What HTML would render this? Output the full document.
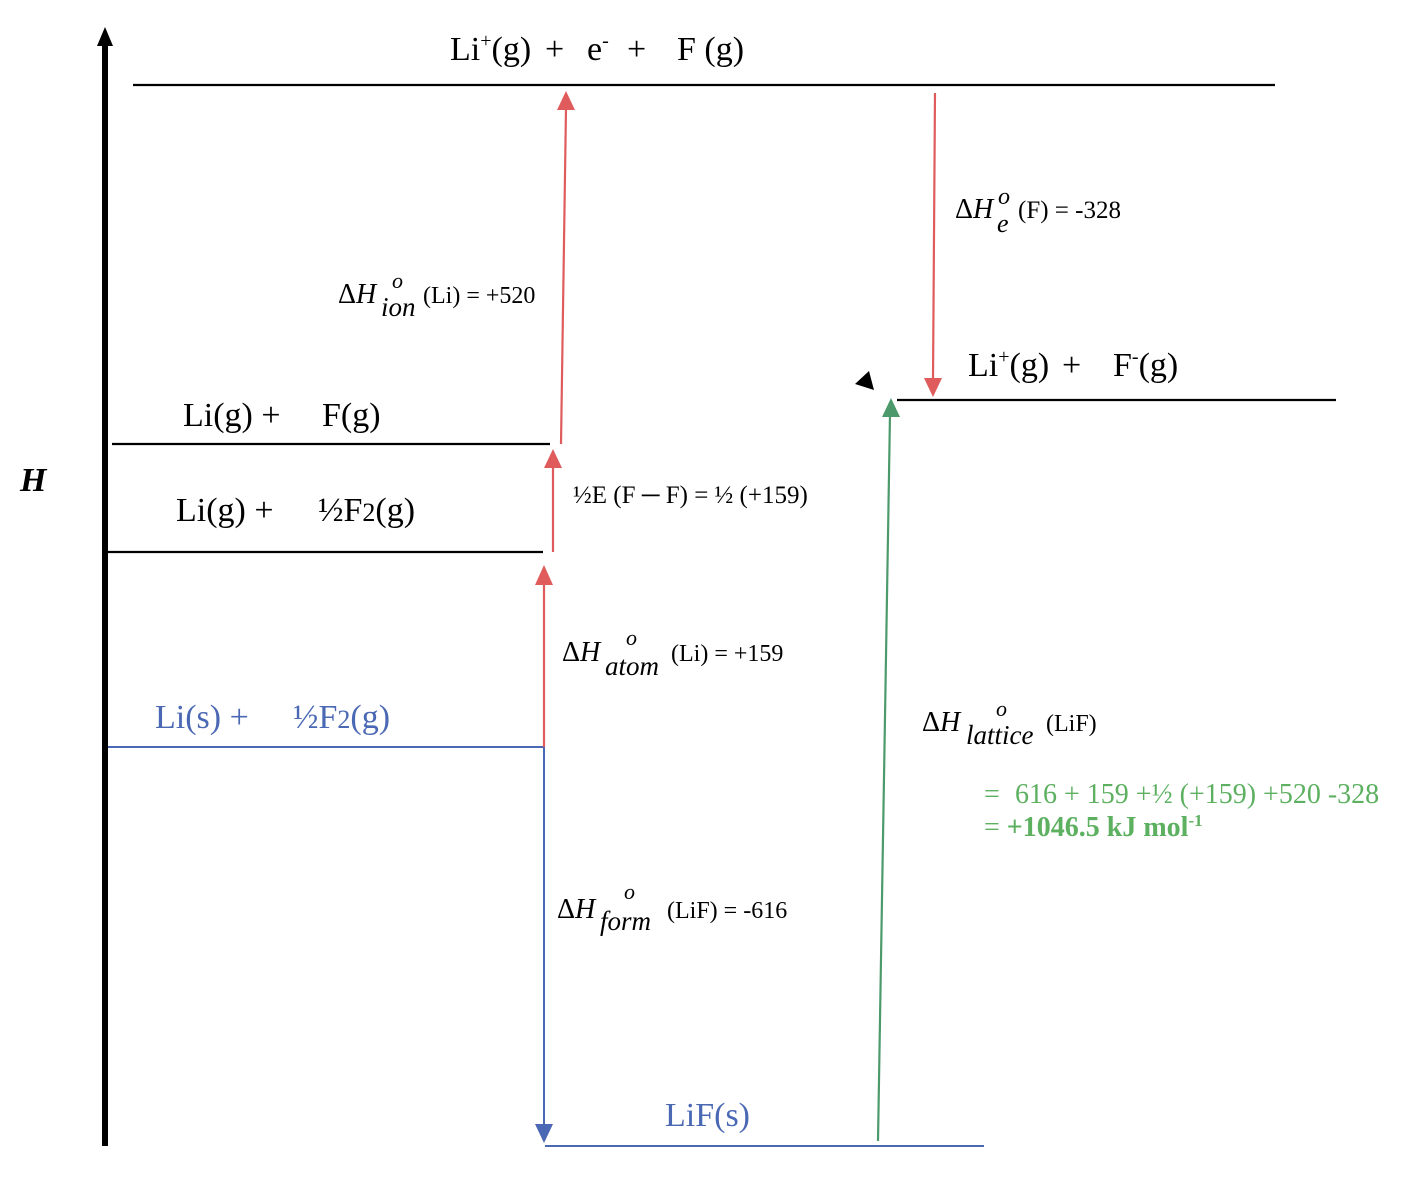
<!DOCTYPE html>
<html><head><meta charset="utf-8"><style>
html,body{margin:0;padding:0;background:#fff;}
svg text{font-family:"Liberation Serif",serif;}
.it{font-style:italic;}
</style></head><body>
<svg width="1410" height="1178" viewBox="0 0 1410 1178" xmlns="http://www.w3.org/2000/svg" xml:space="preserve">
<line x1="105" y1="1146" x2="105" y2="44" stroke="#000" stroke-width="6"/>
<polygon points="105,27 97,46 113,46" fill="#000"/>
<text x="20" y="491" font-size="34" font-weight="bold" class="it">H</text>

<line x1="133" y1="85" x2="1275" y2="85" stroke="#000" stroke-width="2.2"/>
<line x1="112" y1="444" x2="550" y2="444" stroke="#000" stroke-width="2.2"/>
<line x1="108" y1="552" x2="543" y2="552" stroke="#000" stroke-width="2.2"/>
<line x1="897" y1="400" x2="1336" y2="400" stroke="#000" stroke-width="2.2"/>
<line x1="108" y1="747" x2="544" y2="747" stroke="#4a68b3" stroke-width="2"/>
<line x1="545" y1="1146" x2="984" y2="1146" stroke="#4a68b3" stroke-width="2"/>

<text x="450" y="60" font-size="34">Li<tspan font-size="20" dy="-13">+</tspan><tspan dy="13">(g)</tspan></text>
<text x="545" y="60" font-size="34">+</text>
<text x="587" y="60" font-size="34">e<tspan font-size="20" dy="-13">-</tspan></text>
<text x="627" y="60" font-size="34">+</text>
<text x="677" y="60" font-size="34">F (g)</text>

<text x="183" y="426" font-size="34">Li(g) +</text>
<text x="322" y="426" font-size="34">F(g)</text>
<text x="176" y="521" font-size="34">Li(g) +</text>
<text x="318" y="521" font-size="34">½F<tspan font-size="26">2</tspan>(g)</text>
<text x="155" y="728" font-size="34" fill="#4a68b3">Li(s) +</text>
<text x="293" y="728" font-size="34" fill="#4a68b3">½F<tspan font-size="26">2</tspan>(g)</text>
<text x="665" y="1126" font-size="34" fill="#4a68b3">LiF(s)</text>
<text x="968" y="376" font-size="34">Li<tspan font-size="20" dy="-13">+</tspan><tspan dy="13">(g)</tspan></text>
<text x="1062" y="376" font-size="34">+</text>
<text x="1113" y="376" font-size="34">F<tspan font-size="20" dy="-13">-</tspan><tspan dy="13">(g)</tspan></text>

<line x1="544" y1="747" x2="544" y2="584" stroke="#e05c5c" stroke-width="2.2"/>
<polygon points="544,565 535,585 553,585" fill="#e05c5c"/>
<line x1="553" y1="552" x2="553" y2="466" stroke="#e05c5c" stroke-width="2.2"/>
<polygon points="553,449 544,468 562,468" fill="#e05c5c"/>
<line x1="561" y1="444" x2="566" y2="108" stroke="#e05c5c" stroke-width="2.2"/>
<polygon points="566,91 557,110 575,110" fill="#e05c5c"/>
<line x1="935" y1="93" x2="933" y2="380" stroke="#e05c5c" stroke-width="2.2"/>
<polygon points="933,397 924,378 942,378" fill="#e05c5c"/>

<line x1="544" y1="747" x2="544" y2="1126" stroke="#4a68b3" stroke-width="2"/>
<polygon points="544,1143 535,1124 553,1124" fill="#4a68b3"/>

<line x1="878" y1="1141" x2="890" y2="414" stroke="#4c9a6c" stroke-width="2.2"/>
<polygon points="891,398 882,417 900,417" fill="#4c9a6c"/>

<polygon points="869,371 874,390 855,384" fill="#000"/>

<text x="338" y="303" font-size="28">Δ<tspan class="it">H</tspan></text>
<text x="392" y="288" font-size="22" class="it">o</text>
<text x="381" y="316" font-size="27" class="it">ion</text>
<text x="423" y="303" font-size="24">(Li) = +520</text>

<text x="955" y="218" font-size="28">Δ<tspan class="it">H</tspan></text>
<text x="998" y="204" font-size="24" class="it">o</text>
<text x="997" y="232" font-size="26" class="it">e</text>
<text x="1018" y="218" font-size="25">(F) = -328</text>

<text x="573" y="503" font-size="25">½E (F ─ F) = ½ (+159)</text>

<text x="562" y="661" font-size="28">Δ<tspan class="it">H</tspan></text>
<text x="626" y="645" font-size="22" class="it">o</text>
<text x="605" y="675" font-size="27" class="it">atom</text>
<text x="671" y="661" font-size="24">(Li) = +159</text>

<text x="557" y="918" font-size="28">Δ<tspan class="it">H</tspan></text>
<text x="624" y="899" font-size="22" class="it">o</text>
<text x="600" y="930" font-size="27" class="it">form</text>
<text x="667" y="918" font-size="24">(LiF) = -616</text>

<text x="922" y="731" font-size="28">Δ<tspan class="it">H</tspan></text>
<text x="996" y="716" font-size="22" class="it">o</text>
<text x="966" y="744" font-size="27" class="it">lattice</text>
<text x="1046" y="731" font-size="24">(LiF)</text>

<text x="984" y="803" font-size="28" fill="#5cb060">=</text>
<text x="1015" y="803" font-size="28" fill="#5cb060">616 + 159 +½ (+159) +520 -328</text>
<text x="984" y="836" font-size="28" fill="#5cb060">= <tspan font-weight="bold">+1046.5 kJ mol</tspan><tspan font-weight="bold" font-size="17" dy="-10">-1</tspan></text>
</svg>
</body></html>
